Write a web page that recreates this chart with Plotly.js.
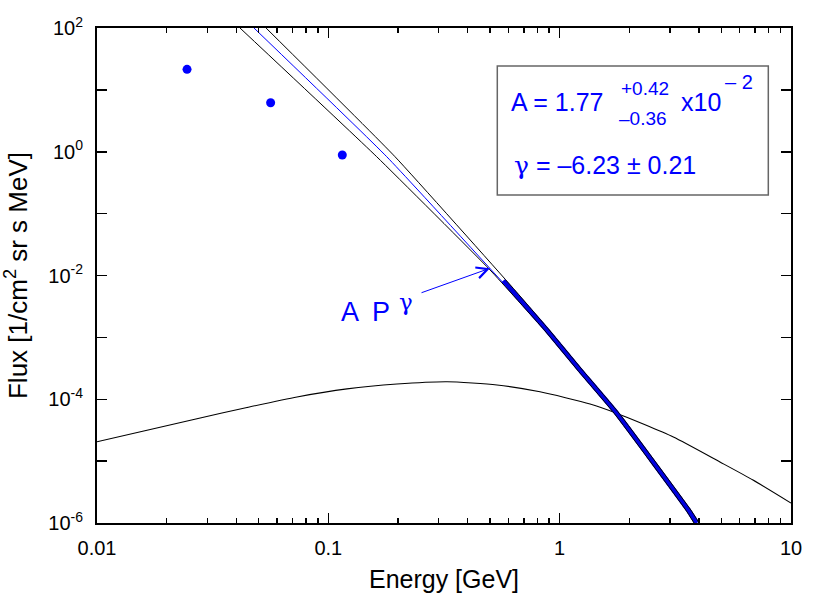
<!DOCTYPE html>
<html>
<head>
<meta charset="utf-8">
<script src="https://cdn.plot.ly/plotly-3.0.1.min.js"></script>
<style>html,body{margin:0;padding:0;background:#fff;}#chart{width:830px;height:593px;}</style>
</head>
<body>
<div id="chart"></div>
<script>
// ---- data ----
const dotE = [0.0245, 0.0563, 0.1149];
const dotFlux = [21.5, 6.2, 0.886];

const fitE = [0.0477, 0.1788, 0.590];
const fitFlux = [100, 0.832, 6.59e-3];

const fitThickE = [0.5705, 0.879, 1.224, 1.764, 3.598, 3.912];
const fitThickFlux = [8.24e-3, 1.32e-3, 2.97e-4, 5.93e-5, 1.62e-6, 1.0e-6];

const upperE = [0.0538, 0.1942, 0.630, 0.901, 1.255, 1.808, 3.69, 4.01];
const upperFlux = [100, 0.832, 6.21e-3, 1.32e-3, 2.97e-4, 5.93e-5, 1.62e-6, 1.0e-6];

const lowerE = [0.04151, 0.1618, 0.500, 0.857, 1.193, 1.720, 3.51, 3.81];
const lowerFlux = [100, 0.832, 1.23e-2, 1.32e-3, 2.97e-4, 5.93e-5, 1.62e-6, 1.0e-6];

const bgE = [0.01, 0.01645, 0.02705, 0.0445, 0.0732, 0.1204, 0.198, 0.326, 0.536, 0.822, 1.353, 1.764, 3.10, 4.93, 6.85, 10];
const bgFlux = [2.06e-5, 3.16e-5, 4.85e-5, 7.36e-5, 1.09e-4, 1.47e-4, 1.76e-4, 1.92e-4, 1.70e-4, 1.32e-4, 8.38e-5, 5.93e-5, 2.45e-5, 9.68e-6, 4.95e-6, 2.1e-6];

const xTickVals = [0.01, 0.1, 1, 10];
const xTickText = ["0.01", "0.1", "1", "10"];
const yTickVals = [1e2, 1e0, 1e-2, 1e-4, 1e-6];
const yTickText = ["10<sup>2</sup>", "10<sup>0</sup>", "10<sup>-2</sup>", "10<sup>-4</sup>", "10<sup>-6</sup>"];
const yMinorVals = [1e1, 1e-1, 1e-3, 1e-5];

const arrowHeadE = 0.500, arrowHeadFlux = 1.31e-2;

const FONT = "Liberation Sans, Arial, Helvetica, sans-serif";
const BLUE = "#0000ff";
const GAMMA = '<span style="font-family:DejaVu Serif">\u03b3</span>';
const GAMMA_SUP = '<span style="font-family:DejaVu Serif;font-size:23px">\u03b3</span>';

const traces = [
  {x: bgE, y: bgFlux, mode: "lines", line: {color: "#000", width: 1.1, shape: "spline", smoothing: 0.6}, hoverinfo: "skip"},
  {x: fitThickE, y: fitThickFlux, mode: "lines", line: {color: "#0000e0", width: 5, shape: "spline", smoothing: 0.4}, hoverinfo: "skip"},
  {x: lowerE, y: lowerFlux, mode: "lines", line: {color: "#000", width: 1, shape: "spline", smoothing: 0.4}, hoverinfo: "skip"},
  {x: upperE, y: upperFlux, mode: "lines", line: {color: "#000", width: 1, shape: "spline", smoothing: 0.4}, hoverinfo: "skip"},
  {x: fitE, y: fitFlux, mode: "lines", line: {color: BLUE, width: 1, shape: "spline", smoothing: 0.4}, hoverinfo: "skip"},
  {x: dotE, y: dotFlux, mode: "markers", marker: {color: BLUE, size: 9}, hoverinfo: "skip"}
];

const layout = {
  width: 830, height: 593,
  margin: {l: 97, r: 39, t: 28, b: 70},
  paper_bgcolor: "#fff", plot_bgcolor: "#fff",
  showlegend: false,
  font: {family: FONT, color: "#000", size: 20},
  xaxis: {
    type: "log", range: [-2, 1],
    showgrid: false, zeroline: false,
    showline: true, linecolor: "#000", linewidth: 2, mirror: "ticks",
    ticks: "inside", ticklen: 10, tickwidth: 1.5, tickcolor: "#000",
    tickmode: "array", tickvals: xTickVals, ticktext: xTickText,
    tickfont: {size: 20, family: FONT},
    ticklabelstandoff: 6,
    minor: {dtick: "D1", ticks: "inside", ticklen: 5, tickwidth: 1.5, tickcolor: "#000", showgrid: false},
    title: {text: "Energy [GeV]", font: {size: 25, family: FONT}, standoff: 14}
  },
  yaxis: {
    type: "log", range: [-6, 2],
    showgrid: false, zeroline: false,
    showline: true, linecolor: "#000", linewidth: 2, mirror: "ticks",
    ticks: "inside", ticklen: 10, tickwidth: 1.5, tickcolor: "#000",
    tickmode: "array", tickvals: yTickVals, ticktext: yTickText,
    tickfont: {size: 20, family: FONT},
    ticklabelstandoff: 8,
    minor: {tickmode: "array", tickvals: yMinorVals, ticks: "inside", ticklen: 10, tickwidth: 1.5, tickcolor: "#000", showgrid: false},
    title: {text: "Flux [1/cm<sup>2</sup> sr s MeV]", font: {size: 26, family: FONT}, standoff: 14}
  },
  shapes: [
    {type: "rect", xref: "paper", yref: "paper", x0: 0.5768, x1: 0.9673, y0: 0.6626, y1: 0.9232,
     line: {color: "#666", width: 1.5}, fillcolor: "rgba(0,0,0,0)"}
  ],
  annotations: [
    {xref: "paper", yref: "paper", x: 0.5937, y: 0.8495, xanchor: "left", yanchor: "middle", showarrow: false,
     text: "A = 1.77", font: {size: 25, color: BLUE, family: FONT}},
    {xref: "paper", yref: "paper", x: 0.7522, y: 0.8768, xanchor: "left", yanchor: "middle", showarrow: false,
     text: "+0.42", font: {size: 19, color: BLUE, family: FONT}},
    {xref: "paper", yref: "paper", x: 0.7493, y: 0.8162, xanchor: "left", yanchor: "middle", showarrow: false,
     text: "\u20130.36", font: {size: 19, color: BLUE, family: FONT}},
    {xref: "paper", yref: "paper", x: 0.8386, y: 0.8505, xanchor: "left", yanchor: "middle", showarrow: false,
     text: "x10", font: {size: 25, color: BLUE, family: FONT}},
    {xref: "paper", yref: "paper", x: 0.902, y: 0.8909, xanchor: "left", yanchor: "middle", showarrow: false,
     text: "\u2013 2", font: {size: 20, color: BLUE, family: FONT}},
    {xref: "paper", yref: "paper", x: 0.598, y: 0.7232, xanchor: "left", yanchor: "middle", showarrow: false,
     text: GAMMA + " = \u20136.23 \u00b1 0.21", font: {size: 25, color: BLUE, family: FONT}},
    {xref: "paper", yref: "paper", x: 0.3487, y: 0.4343, xanchor: "left", yanchor: "middle", showarrow: false,
     text: "A\u2009 P<sup>\u00a0\u2009" + GAMMA_SUP + "</sup>", font: {size: 27, color: BLUE, family: FONT}},
    {x: Math.log10(arrowHeadE), y: Math.log10(arrowHeadFlux), xref: "x", yref: "y",
     text: "", showarrow: true, arrowhead: 5, arrowsize: 2.2, arrowwidth: 1, arrowcolor: BLUE,
     ax: -70, ay: 25, standoff: 0, startstandoff: 0}
  ]
};

Plotly.newPlot("chart", traces, layout, {staticPlot: true, displayModeBar: false});
</script>
</body>
</html>
